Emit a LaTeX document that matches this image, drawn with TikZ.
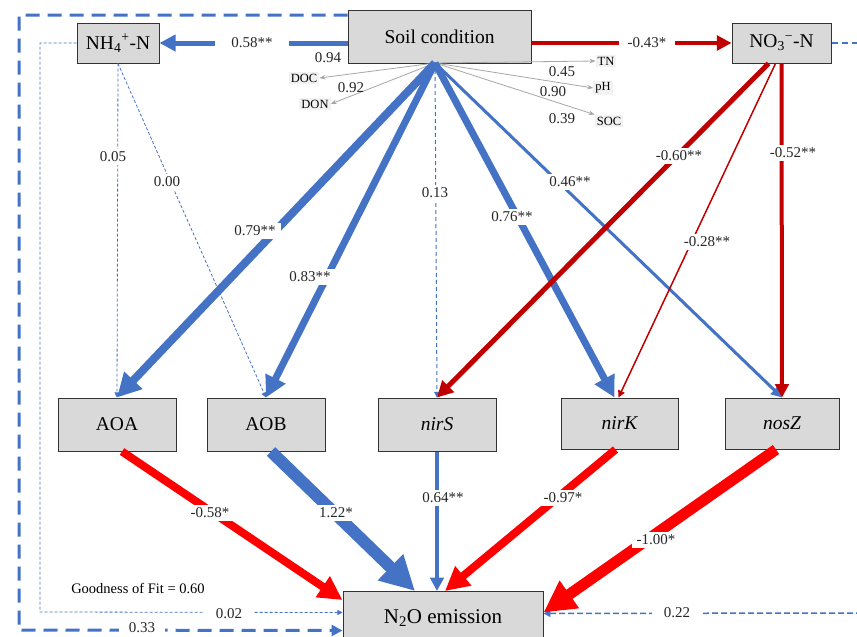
\documentclass[tikz,border=0pt]{standalone}
\usepackage{fontspec}
\setmainfont{Liberation Serif}
\usetikzlibrary{arrows.meta}
\definecolor{bl}{HTML}{4472C4}
\definecolor{dr}{HTML}{C00000}
\definecolor{br}{HTML}{FF0000}
\definecolor{bx}{HTML}{D9D9D9}
\definecolor{gr}{HTML}{A6A6A6}
\definecolor{lbg}{HTML}{F2F2F2}
\definecolor{tx}{HTML}{262626}
\begin{document}
\begin{tikzpicture}[x=1pt,y=-1pt,
 box/.style={draw=black!80,line width=1pt,fill=bx,inner sep=0pt,font=\fontsize{19.5}{22}\selectfont},
 lab/.style={fill=white,inner xsep=5pt,inner ysep=3pt,text=tx,font=\fontsize{15}{17}\selectfont},
 vlab/.style={fill=lbg,inner sep=2pt,font=\fontsize{12.5}{14}\selectfont},
 nlab/.style={inner sep=1pt,text=tx,font=\fontsize{15}{17}\selectfont},
 glab/.style={inner sep=1pt,font=\fontsize{14.5}{16}\selectfont},
 tip/.style={-{Triangle[length=3pt 2.6,width=3pt 2.6]}},
 garr/.style={gr,line width=0.8pt,-{Stealth[length=6pt,width=4.5pt]}},
 fdash/.style={dash pattern=on 3pt off 2pt},
]
\useasboundingbox (0,0) rectangle (857,637);
\clip (0,0) rectangle (857,637);
\fill[white] (0,0) rectangle (857,637);

% nodes
\node[box,minimum width=183pt,minimum height=53pt] (soil) at (439.5,36.5) {Soil condition};
\node[box,minimum width=82pt,minimum height=40pt] (nh4) at (118,43) {NH\textsubscript{4}\textsuperscript{+}-N};
\node[box,minimum width=99pt,minimum height=40pt] (no3) at (781.5,43) {NO\textsubscript{3}\textsuperscript{−}-N};
\node[box,minimum width=118pt,minimum height=53pt] (aoa) at (117,424.5) {AOA};
\node[box,minimum width=118pt,minimum height=53pt] (aob) at (266,424.5) {AOB};
\node[box,minimum width=118pt,minimum height=53pt] (nirs) at (437,424.5) {\itshape nirS};
\node[box,minimum width=117pt,minimum height=51pt] (nirk) at (619.5,423.5) {\itshape nirK};
\node[box,minimum width=114pt,minimum height=51pt] (nosz) at (782,423.5) {\itshape nosZ};
\node[box,anchor=north,minimum width=200pt,minimum height=56pt,font=\fontsize{21}{24}\selectfont] (n2o) at (443,591) {\raisebox{6pt}{N\textsubscript{2}O emission}};

\node[vlab] (doc) at (304,78) {DOC};
\node[vlab] (don) at (315,104) {DON};
\node[vlab] (tn) at (606,61) {TN};
\node[vlab] (ph) at (603,88) {pH};
\node[vlab] (soc) at (609,121) {SOC};

\coordinate (hub) at (435,63);
\coordinate (oc) at (19,630);
\coordinate (ic) at (40,612);
\coordinate (rt) at (862,43);
\coordinate (rb) at (862,613);

% outer dashed paths
\draw[bl,line width=3pt,dash pattern=on 14pt off 8pt,tip] ([yshift=21.5pt]soil.west) -| (oc) -- ([yshift=-11pt]n2o.west);
\draw[bl,line width=0.8pt,fdash,tip] (nh4.west) -| (ic) -- ([yshift=7pt]n2o.west);
\draw[bl,line width=2pt,dash pattern=on 6pt off 4pt] (no3.east) -- (rt);
\draw[bl,line width=1.5pt,dash pattern=on 6pt off 3pt,tip] (rb) -- ([yshift=6pt]n2o.east);

% grey indicator arrows
\draw[garr] (hub) -- (doc.east);
\draw[garr] (hub) -- (don.east);
\draw[garr] (hub) -- (tn.west);
\draw[garr] (hub) -- (ph.west);
\draw[garr] (hub) -- (soc.north west);

% top arrows
\draw[bl,line width=5pt,tip] (soil.west |- nh4) -- (nh4.east);
\draw[dr,line width=4.5pt,tip] (soil.east |- no3) -- (no3.west);

% NH4 dashed
\draw[bl,line width=0.8pt,fdash,tip] (nh4.south) -- (aoa.north);
\draw[bl,line width=0.8pt,fdash,tip] (nh4.south) -- (aob.north);

% soil to genes
\draw[bl,line width=8pt,tip] (hub) -- (aoa.north);
\draw[bl,line width=7pt,tip] (hub) -- (aob.north);
\draw[bl,line width=1pt,dash pattern=on 4pt off 3pt,tip] (hub) -- (nirs.north);
\draw[bl,line width=7pt,tip] (hub) -- ([xshift=-5pt]nirk.north);
\draw[bl,line width=3pt,tip] (hub) -- (nosz.north);

% NO3 to genes
\draw[dr,line width=5pt,tip] ([xshift=-13pt]no3.south) -- (nirs.north);
\draw[dr,line width=1.5pt,tip] ([xshift=-6pt]no3.south) -- ([xshift=-1pt]nirk.north);
\draw[dr,line width=4pt,tip] (no3.south) -- (nosz.north);

% genes to N2O
\draw[br,line width=8pt,tip] ([xshift=5pt]aoa.south) -- ([yshift=-9pt]n2o.north west);
\draw[bl,line width=12pt,tip] ([xshift=5pt]aob.south) -- ([xshift=-28pt]n2o.north);
\draw[bl,line width=4pt,tip] (nirs.south) -- ([xshift=-6pt]n2o.north);
\draw[br,line width=8pt,tip] ([xshift=-4pt]nirk.south) -- ([xshift=2pt]n2o.north);
\draw[br,line width=11pt,tip] ([xshift=-6pt]nosz.south) -- ([yshift=7pt]n2o.east);

% labels
\node[lab,inner xsep=16pt] (l1) at (252,43) {0.58**};
\node[lab,inner xsep=9pt] (l2) at (647,43) {-0.43*};
\node[nlab] (l3) at (328,58) {0.94};
\node[nlab] (l4) at (351,88) {0.92};
\node[nlab] (l5) at (562,72) {0.45};
\node[nlab] (l6) at (553,92) {0.90};
\node[nlab] (l7) at (562,119) {0.39};
\node[lab] (l8) at (255,231) {0.79**};
\node[lab] (l9) at (310,277) {0.83**};
\node[lab] (l10) at (435,193) {0.13};
\node[lab] (l11) at (512,217) {0.76**};
\node[lab] (l12) at (570,182) {0.46**};
\node[lab] (l13) at (113,157) {0.05};
\node[lab] (l14) at (167,182) {0.00};
\node[lab] (l15) at (679,156) {-0.60**};
\node[lab] (l16) at (707,242) {-0.28**};
\node[lab] (l17) at (793,153) {-0.52**};
\node[lab] (l18) at (210,513) {-0.58*};
\node[lab] (l19) at (336,513) {1.22*};
\node[lab] (l20) at (443,498) {0.64**};
\node[lab] (l21) at (563,498) {-0.97*};
\node[lab] (l22) at (656,540) {-1.00*};
\node[lab,inner xsep=12pt] (l23) at (229,614) {0.02};
\node[lab,inner xsep=12pt] (l24) at (677,613) {0.22};
\node[lab,inner xsep=10pt,inner ysep=1pt] (l25) at (142,628) {0.33};
\node[glab] (gof) at (138,588) {Goodness of Fit = 0.60};
\end{tikzpicture}
\end{document}
